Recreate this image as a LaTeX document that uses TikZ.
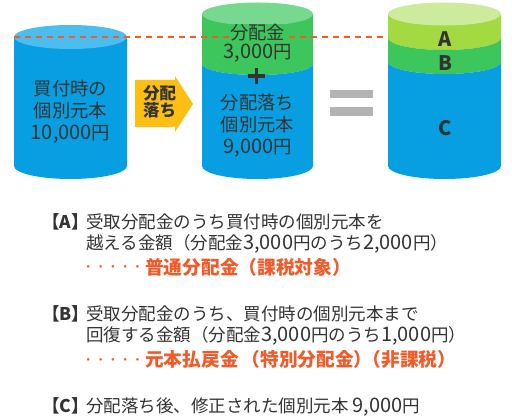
\documentclass[tikz,border=0pt]{standalone}
\usepackage{fontspec}
\setmainfont{Noto Sans CJK JP}
\newcommand\bignum[1]{{\fontsize{20}{21}\selectfont #1}}
\definecolor{cylblue}{HTML}{079FE2}
\definecolor{cylbluetop}{HTML}{4CBDEF}
\definecolor{cylgreen}{HTML}{3DC65B}
\definecolor{cylgreentop}{HTML}{76D98F}
\definecolor{cylyg}{HTML}{A3D941}
\definecolor{cylygtop}{HTML}{CDEB9C}
\definecolor{arrowgold}{HTML}{FDBF13}
\definecolor{accent}{HTML}{F15A29}
\definecolor{eqgray}{HTML}{B3B3B3}
\definecolor{ink}{HTML}{333333}
\begin{document}
\begin{tikzpicture}[x=1pt,y=-1pt,
  cyltext/.style={text=ink, font=\fontsize{18.3}{22}\selectfont, align=center, inner sep=0pt},
  bodytext/.style={text=ink, font=\fontsize{17.5}{21}\selectfont, anchor=base west, inner sep=0pt},
  labeltext/.style={text=ink, font=\fontsize{17.5}{21}\selectfont\bfseries, anchor=base west, inner sep=0pt},
  redtext/.style={text=accent, font=\fontsize{18.7}{21}\selectfont\bfseries, anchor=base west, inner sep=0pt},
  dottext/.style={text=accent, font=\fontsize{12.3}{14}\selectfont, anchor=base west, inner sep=0pt},
  lettertext/.style={text=ink, font=\fontsize{20}{22}\selectfont\bfseries, inner sep=0pt},
  guide/.style={accent, line width=2.8pt, dash pattern=on 6pt off 5pt},
  eqbar/.style={fill=eqgray}
]
\useasboundingbox (0,0) rectangle (512,419);
\fill[white] (0,0) rectangle (512,419);

% ---- cylinder 1
\fill[cylblue] (14,37) -- (14,166) arc[start angle=180,end angle=360,x radius=56.5pt,y radius=13pt] -- (127,37) -- cycle;
\fill[cylbluetop] (70.5,37) ellipse[x radius=56.5pt,y radius=12pt];

% ---- cylinder 2
\fill[cylgreen] (202,14) -- (202,64) arc[start angle=180,end angle=360,x radius=55.5pt,y radius=11pt] -- (313,14) -- cycle;
\fill[cylblue] (202,64) arc[start angle=180,end angle=360,x radius=55.5pt,y radius=11pt] -- (313,166) arc[start angle=0,end angle=-180,x radius=55.5pt,y radius=13pt] -- cycle;
\fill[cylgreentop] (257.5,14) ellipse[x radius=55.5pt,y radius=11.5pt];

% ---- cylinder 3
\fill[cylyg] (388,14) -- (388,38) arc[start angle=180,end angle=360,x radius=56.5pt,y radius=12pt] -- (501,14) -- cycle;
\fill[cylgreen] (388,38) arc[start angle=180,end angle=360,x radius=56.5pt,y radius=12pt] -- (501,62) arc[start angle=0,end angle=-180,x radius=56.5pt,y radius=12pt] -- cycle;
\fill[cylblue] (388,62) arc[start angle=180,end angle=360,x radius=56.5pt,y radius=12pt] -- (501,166) arc[start angle=0,end angle=-180,x radius=56.5pt,y radius=13pt] -- cycle;
\fill[cylygtop] (444.5,14) ellipse[x radius=56.5pt,y radius=11.5pt];

% ---- dashed guide line
\coordinate (gstart) at (14,37);
\coordinate (gend) at (388,37);
\draw[guide] (gstart) -- (gend);

% ---- cylinder texts
\node[cyltext] (c1text) at (70.5,112) {買付時の\\個別元本\\\bignum{10,000}円};
\node[cyltext, fill=cylgreen, inner xsep=1.5pt, inner ysep=0.5pt] (c2top) at (257.5,33) {分配金};
\node[cyltext] (c2amt) at (257.5,53) {\bignum{3,000}円};
\node[cyltext] (c2low) at (257.5,126) {分配落ち\\個別元本\\\bignum{9,000}円};
\node[lettertext] (la) at (445,39.5) {A};
\node[lettertext] (lb) at (445,63) {B};
\node[lettertext] (lc) at (445,128.5) {C};

% ---- plus
\draw[ink, line width=3.3pt] (248,76) -- (265,76);
\draw[ink, line width=3.3pt] (256.5,68) -- (256.5,84);

% ---- arrow
\fill[arrowgold] (135,80) -- (175,80) -- (175,76) -- (193,104) -- (175,132) -- (175,127) -- (135,127) -- cycle;
\node[text=ink, font=\fontsize{16.5}{15.5}\selectfont\bfseries, align=center, inner sep=0pt] (arrtext) at (159.5,101.5) {分配\\落ち};

% ---- equal sign
\fill[eqbar] (330,90) rectangle (373,98.3);
\fill[eqbar] (330,107.3) rectangle (373,115.7);

% ---- explanations
\node[labeltext] (ta) at (42,228.6) {【A】};
\node[bodytext] (a1) at (86,228.6) {受取分配金のうち買付時の個別元本を};
\node[bodytext] (a2) at (86,249.6) {越える金額（分配金\bignum{3,000}円のうち\bignum{2,000}円）};
\node[dottext] (ad) at (82,271.7) {・・・・・};
\node[redtext] (a3) at (145,275) {普通分配金（課税対象）};

\node[labeltext] (tb) at (42,320.6) {【B】};
\node[bodytext] (b1) at (86,320.6) {受取分配金のうち、買付時の個別元本まで};
\node[bodytext] (b2) at (86,341.6) {回復する金額（分配金\bignum{3,000}円のうち\bignum{1,000}円）};
\node[dottext] (bd) at (82,364.7) {・・・・・};
\node[redtext] (b3) at (145,367) {元本払戻金\hspace{3pt}（特別分配金）\kern-10pt（非課税）};

\node[labeltext] (tc) at (42,412.4) {【C】};
\node[bodytext] (c1) at (86,412.4) {分配落ち後、修正された個別元本 \bignum{9,000}円};
\end{tikzpicture}
\end{document}
